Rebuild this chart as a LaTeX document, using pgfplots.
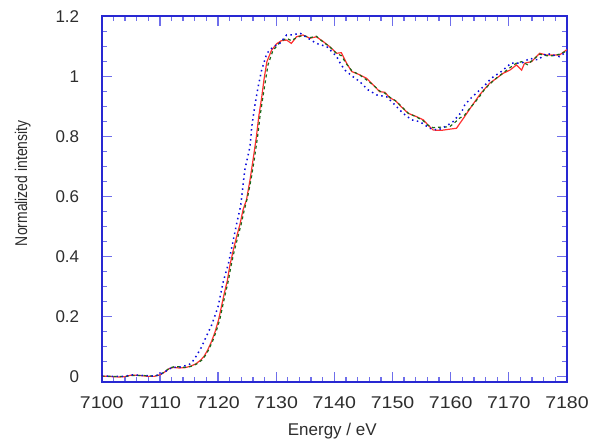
\documentclass[border=0pt]{standalone}
\usepackage{fontspec}
\setmainfont{Liberation Sans}
\usepackage{graphicx}
\usepackage{pgfplots}
\pgfplotsset{compat=1.18}

\definecolor{axisblue}{RGB}{40,40,210}
\definecolor{tickblue}{RGB}{110,110,235}
\definecolor{labgray}{RGB}{45,45,45}
\definecolor{cred}{RGB}{255,50,50}
\definecolor{cgreen}{RGB}{25,105,25}
\definecolor{cblue}{RGB}{10,10,220}

\begin{document}
\begin{tikzpicture}
\useasboundingbox (-101.7pt,-61.3pt) rectangle (490.3pt,381.7pt);
\begin{axis}[
  scale only axis, width=465.3pt, height=365.7pt,
  xmin=7100, xmax=7180, ymin=-0.0167, ymax=1.2023,
  xtick={7100,7110,...,7180}, minor x tick num=4,
  ytick={0,0.2,...,1.2}, minor y tick num=3,
  tick align=inside,
  major tick length=10pt, minor tick length=5pt,
  axis line style={draw=axisblue, line width=1.8pt},
  every tick/.style={draw=tickblue, line width=1.3pt},
  tick label style={font=\fontsize{17}{20}\selectfont, text=labgray},
  /pgf/number format/assume math mode=true,
  /pgf/number format/set thousands separator={},
  xticklabel={\scalebox{1.15}[1]{\pgfmathprintnumber{\tick}}},
  xticklabel style={yshift=-11.6pt},
  yticklabel style={xshift=-19pt},
  clip=true,
]
% red: solid
\addplot[cred, line width=1.2pt] coordinates {
(7100,0.002) (7101,0.001) (7102,0.000) (7103,-0.001) (7104,0.000) (7105,0.005)
(7106,0.005) (7107,0.003) (7108,0.001) (7109,0.001) (7110,0.006) (7110.8,0.015)
(7111.6,0.027) (7112.4,0.031) (7113.3,0.029) (7114.3,0.030) (7115.3,0.035)
(7116.2,0.043) (7117,0.055) (7117.6,0.068) (7118.2,0.088) (7118.9,0.118)
(7119.5,0.15) (7120.1,0.19) (7120.6,0.235) (7121.1,0.28) (7121.6,0.32)
(7122.0,0.367) (7122.6,0.42) (7123.2,0.467) (7123.8,0.51) (7124.3,0.556)
(7124.9,0.59) (7125.5,0.656) (7126.0,0.72) (7126.6,0.80) (7127.0,0.867)
(7127.5,0.93) (7127.9,0.99) (7128.4,1.05) (7129.2,1.088) (7130.1,1.11)
(7130.9,1.12) (7131.8,1.122) (7132.6,1.111) (7133.5,1.133) (7134.6,1.139)
(7135.8,1.128) (7136.9,1.133) (7138.1,1.117) (7139.2,1.10) (7140.4,1.078)
(7141.2,1.080) (7142.1,1.045) (7143.0,1.017) (7144.4,1.006) (7145.5,0.995)
(7146.7,0.972) (7147.8,0.950) (7148.7,0.948) (7149.5,0.930) (7150.5,0.92)
(7151.5,0.90) (7152.7,0.878) (7154.1,0.867) (7155.3,0.856) (7156.1,0.839)
(7157.0,0.822) (7158.4,0.821) (7159.8,0.825) (7161.0,0.828) (7161.6,0.845)
(7162.4,0.867) (7163.3,0.893) (7164.2,0.918) (7165.0,0.940) (7165.8,0.958)
(7166.7,0.978) (7167.9,0.995) (7169.0,1.011) (7170.2,1.022) (7171.3,1.039)
(7172.2,1.022) (7172.7,1.045) (7173.9,1.050) (7175.3,1.078) (7176.5,1.072)
(7177.6,1.072) (7178.7,1.072) (7179.9,1.089) (7180,1.09)
};
% green: dashed, over the red
\addplot[cgreen, line width=1.2pt, dash pattern=on 3pt off 3pt] coordinates {
(7100,0.002) (7102,0.001) (7104,0.000) (7105,0.004) (7107,0.004) (7109,0.002)
(7110,0.006) (7110.8,0.016) (7111.6,0.028) (7112.4,0.033) (7113.3,0.033)
(7114.3,0.031) (7115.3,0.034) (7116.3,0.042) (7117.2,0.055) (7117.8,0.07)
(7118.4,0.09) (7119.1,0.12) (7119.7,0.152) (7120.3,0.19) (7120.8,0.236)
(7121.3,0.28) (7121.8,0.322) (7122.2,0.366) (7122.8,0.42) (7123.4,0.465)
(7124.0,0.51) (7124.5,0.555) (7125.1,0.6) (7125.7,0.66) (7126.2,0.72)
(7126.8,0.80) (7127.2,0.865) (7127.7,0.93) (7128.1,0.98) (7128.6,1.04)
(7129.4,1.085) (7130.2,1.105) (7131.0,1.12) (7131.8,1.128) (7132.6,1.12)
(7133.5,1.13) (7134.6,1.138) (7135.8,1.13) (7136.9,1.135) (7138.1,1.115)
(7139.2,1.1) (7140.4,1.077) (7141.2,1.07) (7142.1,1.042) (7143.0,1.02)
(7144.4,1.005) (7145.5,0.99) (7146.7,0.972) (7147.8,0.952) (7148.7,0.945)
(7149.5,0.932) (7150.5,0.92) (7151.5,0.902) (7152.7,0.878) (7154.1,0.866)
(7155.3,0.853) (7156.1,0.838) (7157.0,0.83) (7158.4,0.832) (7159.8,0.833)
(7160.6,0.845) (7161.4,0.86) (7162.4,0.872) (7163.3,0.895) (7164.2,0.915)
(7165.0,0.935) (7165.8,0.957) (7166.7,0.975) (7167.9,0.996) (7169.0,1.012)
(7170.2,1.03) (7171.3,1.045) (7172.2,1.05) (7173.2,1.04) (7173.9,1.052)
(7175.3,1.075) (7176.5,1.07) (7177.6,1.07) (7178.7,1.075) (7179.9,1.085)
};
% blue: dotted
\addplot[cblue, line width=1.5pt, dash pattern=on 1.5pt off 3.5pt] coordinates {
(7100,0.003) (7102,0.001) (7104,0.001) (7105,0.006) (7107,0.004) (7109,0.002)
(7110,0.007) (7111,0.018) (7112,0.03) (7113.5,0.032) (7115,0.04) (7115.5,0.047)
(7116.3,0.07) (7117.2,0.10) (7118.0,0.135) (7118.9,0.172) (7120.0,0.233)
(7120.9,0.317) (7121.8,0.378) (7122.5,0.444) (7123.2,0.51) (7123.9,0.57)
(7124.6,0.689) (7125.5,0.767) (7125.8,0.833) (7126.3,0.9) (7126.9,0.967)
(7127.5,1.022) (7128.4,1.078) (7129.5,1.1) (7130.6,1.111) (7131.8,1.139)
(7133,1.14) (7134.1,1.145) (7135.5,1.128) (7136.9,1.111) (7138.7,1.1)
(7140.4,1.067) (7141.0,1.045) (7141.8,1.022) (7143.2,1.0) (7144.4,0.983)
(7145.8,0.956) (7147.3,0.939) (7149.0,0.933) (7150.4,0.906) (7151.8,0.878)
(7153.3,0.856) (7154.7,0.85) (7156.4,0.828) (7157.8,0.822) (7159.3,0.836)
(7160.4,0.85) (7161.9,0.883) (7162.4,0.905) (7163.3,0.925) (7164.4,0.945)
(7165.9,0.972) (7167.0,0.995) (7168.7,1.017) (7170.4,1.045) (7172.2,1.045)
(7173.6,1.061) (7175.0,1.056) (7176.5,1.078) (7177.6,1.072) (7178.7,1.067)
(7179.9,1.083)
};
\end{axis}
\node[rotate=90, text=labgray, font=\fontsize{17}{20}\selectfont]
  at (-79pt,198.4pt) {\scalebox{0.82}[1]{Normalized intensity}};
\node[text=labgray, font=\fontsize{17}{20}\selectfont]
  at (230.6pt,-49pt) {Energy / eV};
\end{tikzpicture}
\end{document}
